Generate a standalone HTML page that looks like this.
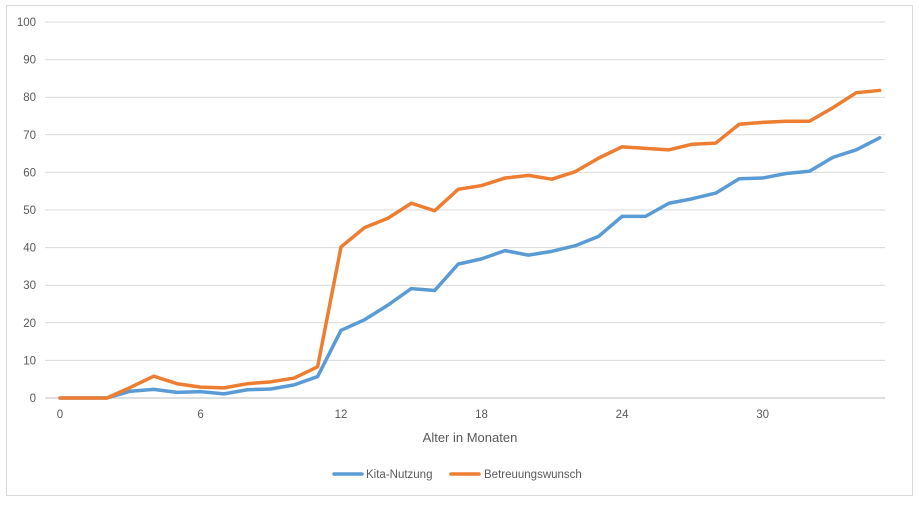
<!DOCTYPE html>
<html><head><meta charset="utf-8"><style>
body{margin:0;background:#fff;}
svg{display:block;font-family:"Liberation Sans",sans-serif;}
</style></head><body>
<svg id="chart" width="920" height="506" viewBox="0 0 920 506">
<rect x="6.5" y="5.5" width="906" height="490" fill="#fff" stroke="#d9d9d9"/>
<g id="grid"></g><g id="lines"></g>
<text x="470" y="442" font-size="13" fill="#595959" text-anchor="middle">Alter in Monaten</text>
<g>
<line x1="334" y1="474" x2="362" y2="474" stroke="#5b9bd5" stroke-width="3.5" stroke-linecap="round"/>
<text x="366" y="478" font-size="11.5" fill="#595959">Kita-Nutzung</text>
<line x1="451" y1="474" x2="479" y2="474" stroke="#ed7d31" stroke-width="3.5" stroke-linecap="round"/>
<text x="484" y="478" font-size="11.5" fill="#595959">Betreuungswunsch</text>
</g>
</svg>
<script>
const months=[0,1,2,3,4,5,6,7,8,9,10,11,12,13,14,15,16,17,18,19,20,21,22,23,24,25,26,27,28,29,30,31,32,33,34,35];
const kita=[0,0,0,1.8,2.3,1.5,1.7,1.1,2.2,2.4,3.5,5.7,18,20.8,24.7,29.1,28.6,35.6,37,39.2,38,39,40.5,43,48.3,48.3,51.8,53,54.5,58.3,58.5,59.7,60.3,64,66,69.2];
const wunsch=[0,0,0,2.8,5.8,3.8,2.9,2.7,3.8,4.3,5.3,8.3,40.2,45.3,47.8,51.8,49.8,55.5,56.5,58.5,59.2,58.2,60.2,63.8,66.8,66.4,66,67.5,67.8,72.8,73.3,73.6,73.6,77.2,81.2,81.8];
const yTicks=[0,10,20,30,40,50,60,70,80,90,100];
const xTicks=[0,6,12,18,24,30];
const ns="http://www.w3.org/2000/svg";
const X=m=>60+m*23.42, Y=v=>398-v*3.76;
const grid=document.getElementById('grid'), lines=document.getElementById('lines');
function mk(tag,attrs,parent){const e=document.createElementNS(ns,tag);for(const k in attrs)e.setAttribute(k,attrs[k]);parent.appendChild(e);return e;}
yTicks.forEach(v=>{
  const l=mk('line',{x1:45,x2:885,y1:Y(v),y2:Y(v),stroke:v===0?'#bfbfbf':'#d9d9d9','stroke-width':1},grid);
  
  
  const t=mk('text',{x:36,y:Y(v)+4,'font-size':11.5,fill:'#595959','text-anchor':'end'},grid);
  t.textContent=v;
  
  
});
xTicks.forEach(m=>{
  const t=mk('text',{x:X(m),y:418,'font-size':11.5,fill:'#595959','text-anchor':'middle'},grid);
  t.textContent=m;
  
  
});
function series(vals,color,name){
  const p=mk('polyline',{points:vals.map((v,i)=>X(months[i])+','+Y(v)).join(' '),fill:'none',stroke:color,'stroke-width':3.5,'stroke-linejoin':'round','stroke-linecap':'round'},lines);
  
  
}
series(kita,'#5b9bd5','series-kita-nutzung');
series(wunsch,'#ed7d31','series-betreuungswunsch');
</script>
</body></html>
